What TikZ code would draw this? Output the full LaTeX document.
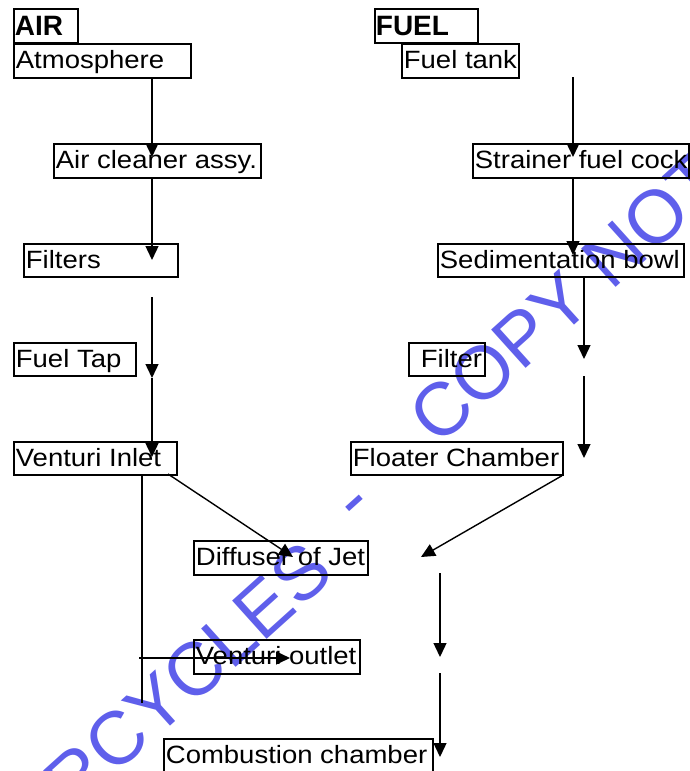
\documentclass[tikz,border=0pt]{standalone}
\usepackage{fontspec}
\setmainfont{Liberation Sans}[FakeStretch=1.1]
\newfontfamily\hdfont{Liberation Sans}
\usetikzlibrary{arrows.meta}
\definecolor{wm}{RGB}{95,95,235}
\newcommand\lbox[2]{\makebox[#1][l]{#2}}
\tikzset{
  box/.style={draw, line width=1.8pt, anchor=north west, inner xsep=2pt, inner ysep=0pt,
    font=\fontsize{25}{28}\selectfont, text height=18pt, text depth=2.5pt},
  head/.style={draw, line width=1.8pt, anchor=north west, inner xsep=1pt, inner ysep=0pt,
    font=\hdfont\bfseries\fontsize{28}{30}\selectfont, text height=20pt, text depth=0pt},
  arr/.style={line width=1.4pt, -{Triangle[length=14pt,width=13pt]}},
  ln/.style={line width=1.4pt},
  wmark/.style={wm, font=\hdfont\fontsize{75}{75}\selectfont, rotate=42, inner sep=0pt}
}
\begin{document}
\begin{tikzpicture}[x=1pt,y=-1pt]
\useasboundingbox (0,0) rectangle (690,771);
\clip (0,0) rectangle (690,771);
% watermark
\node[wmark, anchor=base east] (wm1) at (337,576) {RCYCLES};
\node[wmark, anchor=base] (wm2) at (368,518) {-};
\node[wmark, anchor=base west] (wm3) at (438,448) {COPY NOT};
% headers
\node[head, minimum height=34pt] (air) at (13,8) {\lbox{62pt}{AIR}};
\node[head, minimum height=34pt] (fuel) at (374,8) {\lbox{101pt}{FUEL}};
% air column
\node[box, minimum height=34pt] (atm) at (13,43) {\lbox{173pt}{Atmosphere}};
\node[box, minimum height=34pt] (clean) at (53,143) {\lbox{203pt}{Air cleaner assy.}};
\node[box, minimum height=33pt] (filters) at (23,243) {\lbox{150pt}{Filters}};
\node[box, minimum height=33pt] (tap) at (13,342) {\lbox{118pt}{Fuel Tap}};
\node[box, minimum height=33pt] (vin) at (13,441) {\lbox{159pt}{Venturi Inlet}};
\node[box, minimum height=34pt] (diff) at (193,540) {\lbox{170pt}{Diffuser of Jet}};
\node[box, minimum height=34pt] (vout) at (193,639) {\lbox{162pt}{Venturi outlet}};
\node[box, minimum height=34pt] (comb) at (163,738) {\lbox{265pt}{Combustion chamber}};
% fuel column
\node[box, minimum height=34pt] (tank) at (401,43) {\lbox{113pt}{Fuel tank}};
\node[box, minimum height=34pt] (strainer) at (472,143) {\lbox{212pt}{Strainer fuel cock}};
\node[box, minimum height=33pt] (sed) at (437,243) {\lbox{242pt}{Sedimentation bowl}};
\node[box, minimum height=33pt] (filter) at (408,342) {\lbox{72pt}{\hspace*{10pt}Filter}};
\node[box, minimum height=33pt] (float) at (350,441) {\lbox{208pt}{Floater Chamber}};
% connector end points
\coordinate (a1) at (152,157);
\coordinate (a2) at (152,260);
\coordinate (a3s) at (152,297);
\coordinate (a3) at (152,378);
\coordinate (a4) at (152,457);
\coordinate (v1) at (142,703);
\coordinate (d0) at (168,474);
\coordinate (d1) at (293,557);
\coordinate (h0) at (139,658);
\coordinate (h1) at (290,658);
\coordinate (f0) at (573,77);
\coordinate (f1) at (573,157);
\coordinate (f2) at (573,255);
\coordinate (f3s) at (584,276);
\coordinate (f3) at (584,359);
\coordinate (f4s) at (584,376);
\coordinate (f4) at (584,458);
\coordinate (g1) at (421,557);
\coordinate (g2s) at (440,573);
\coordinate (g2) at (440,657);
\coordinate (g3s) at (440,673);
\coordinate (g3) at (440,757);
% air connectors
\draw[arr] (atm.south -| a1) -- (a1);
\draw[arr] (clean.south -| a2) -- (a2);
\draw[arr] (a3s) -- (a3);
\draw[arr] (a3) -- (a4);
\draw[ln] (vin.south -| v1) -- (v1);
\draw[arr] (d0) -- (d1);
\draw[arr] (h0) -- (h1);
% fuel connectors
\draw[arr] (f0) -- (f1);
\draw[arr] (strainer.south -| f2) -- (f2);
\draw[arr] (sed.south -| f3s) -- (f3);
\draw[arr] (f4s) -- (f4);
\draw[arr] ([xshift=-2pt]float.south east) -- (g1);
\draw[arr] (g2s) -- (g2);
\draw[arr] (g3s) -- (g3);
\end{tikzpicture}
\end{document}
